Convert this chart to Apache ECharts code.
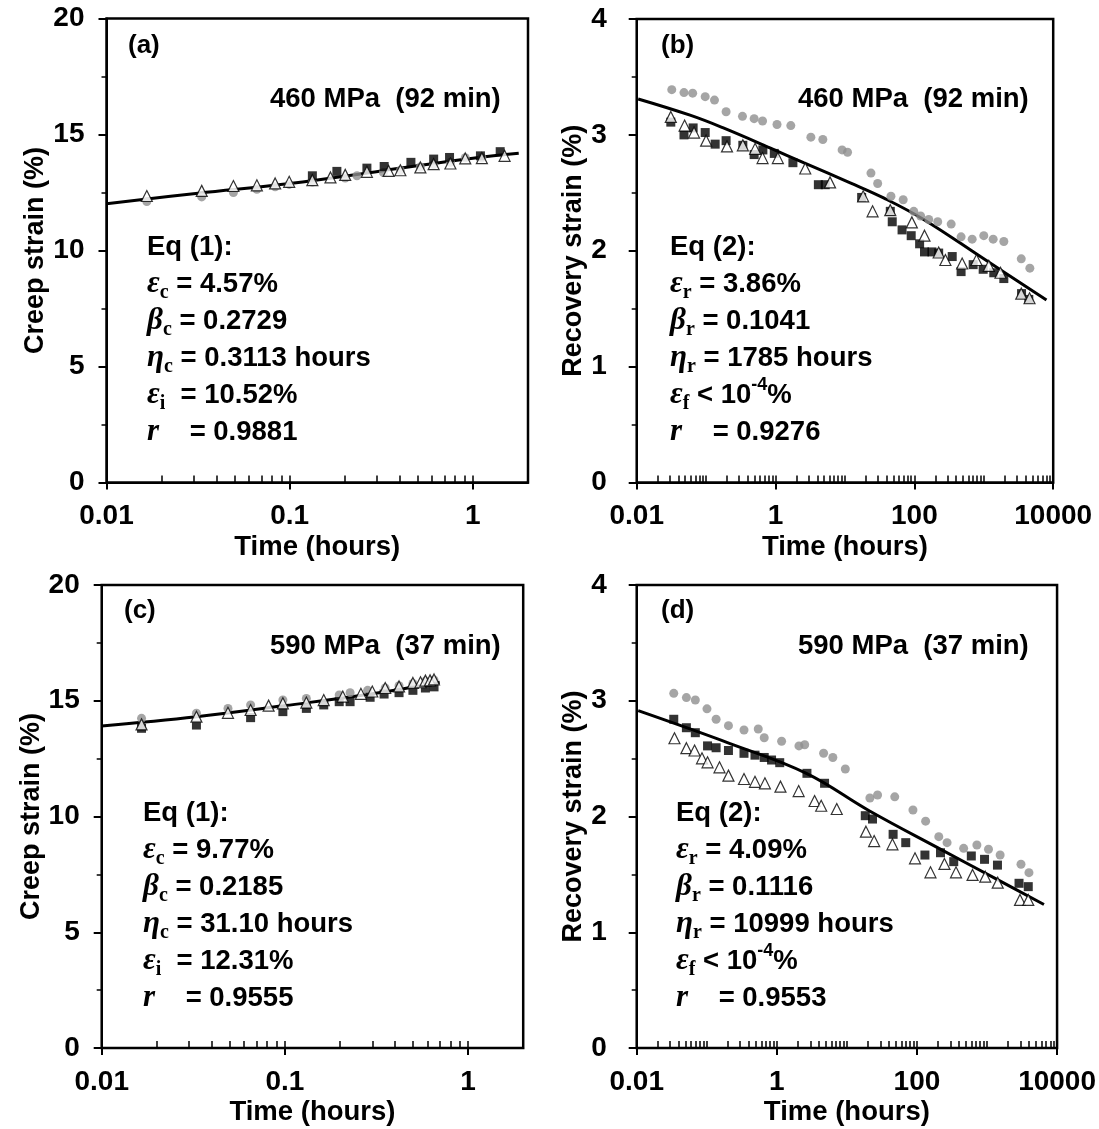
<!DOCTYPE html>
<html>
<head>
<meta charset="utf-8">
<script src="https://cdn.jsdelivr.net/npm/echarts@6.0.0/dist/echarts.min.js"></script>
<style>
  html, body { margin: 0; padding: 0; background: #fff; }
  #chart { width: 1099px; height: 1129px; }
</style>
</head>
<body>
<div id="chart"></div>
<script>
// (a) creep at 460 MPa
const aCircleTime = [0.0166, 0.0331, 0.0493, 0.0662, 0.0833, 0.0994, 0.133, 0.201, 0.233, 0.325, 0.402, 0.517, 0.611, 0.754, 0.909, 1.12];
const aCircleStrain = [12.11, 12.31, 12.5, 12.64, 12.75, 12.85, 12.95, 13.12, 13.22, 13.36, 13.45, 13.6, 13.7, 13.8, 14.0, 14.0];
const aSquareTime = [0.133, 0.181, 0.264, 0.328, 0.459, 0.611, 0.746, 1.10, 1.41];
const aSquareStrain = [13.22, 13.41, 13.55, 13.62, 13.80, 13.94, 14.01, 14.08, 14.26];
const aTriTime = [0.0166, 0.0331, 0.0493, 0.0662, 0.0833, 0.0994, 0.133, 0.167, 0.201, 0.264, 0.347, 0.402, 0.517, 0.611, 0.754, 0.909, 1.12, 1.49];
const aTriStrain = [12.35, 12.57, 12.78, 12.81, 12.89, 12.96, 13.03, 13.15, 13.26, 13.39, 13.43, 13.46, 13.58, 13.72, 13.75, 13.97, 13.98, 14.08];
const aFitTime = [0.01, 0.0316, 0.1, 0.316, 1, 1.78];
const aFitStrain = [12.02, 12.47, 12.89, 13.43, 13.98, 14.19];

// (b) recovery after 460 MPa
const bCircleTime = [0.032, 0.048, 0.064, 0.097, 0.132, 0.194, 0.334, 0.492, 0.65, 1.05, 1.66, 3.23, 4.8, 9.1, 10.9, 23.7, 29.6, 46, 69, 98, 123, 161, 217, 339, 471, 680, 1000, 1365, 1944, 3466, 4611];
const bCircleStrain = [3.39, 3.365, 3.36, 3.33, 3.30, 3.20, 3.16, 3.14, 3.12, 3.09, 3.08, 2.98, 2.96, 2.87, 2.85, 2.67, 2.58, 2.47, 2.44, 2.34, 2.30, 2.27, 2.25, 2.23, 2.12, 2.10, 2.13, 2.10, 2.08, 1.93, 1.85];
const bSquareTime = [0.031, 0.048, 0.065, 0.097, 0.135, 0.194, 0.338, 0.492, 0.657, 0.96, 1.78, 4.14, 5.2, 17.4, 45, 48, 66.5, 90, 119, 140, 179, 224, 351, 471, 703, 980, 1393, 1944, 3500, 4450];
const bSquareStrain = [3.11, 3.00, 3.06, 3.02, 2.92, 2.95, 2.91, 2.83, 2.87, 2.84, 2.76, 2.57, 2.57, 2.46, 2.34, 2.25, 2.18, 2.13, 2.06, 1.99, 1.99, 1.98, 1.95, 1.82, 1.88, 1.84, 1.81, 1.76, 1.63, 1.58];
const bTriTime = [0.031, 0.049, 0.067, 0.1, 0.2, 0.338, 0.508, 0.65, 1.08, 2.68, 6.1, 18.3, 25, 45, 92, 140, 224, 280, 488, 785, 1180, 1740, 3466, 4560];
const bTriStrain = [3.155, 3.08, 3.02, 2.95, 2.90, 2.91, 2.88, 2.80, 2.80, 2.71, 2.59, 2.47, 2.34, 2.35, 2.245, 2.13, 1.985, 1.92, 1.89, 1.92, 1.87, 1.81, 1.63, 1.59];
const bFitTime = [0.0105, 0.0587, 0.177, 0.93, 2.53, 11.9, 36, 136, 1000, 8000];
const bFitStrain = [3.31, 3.17, 3.06, 2.875, 2.76, 2.586, 2.456, 2.27, 1.93, 1.576];

// (c) creep at 590 MPa
const cCircleTime = [0.0165, 0.0329, 0.0489, 0.065, 0.0975, 0.131, 0.198, 0.227, 0.283, 0.353, 0.42, 0.5, 0.585, 0.652];
const cCircleStrain = [14.24, 14.46, 14.67, 14.82, 15.03, 15.1, 15.25, 15.35, 15.45, 15.55, 15.65, 15.75, 15.85, 15.9];
const cSquareTime = [0.0165, 0.0329, 0.065, 0.0975, 0.131, 0.163, 0.198, 0.227, 0.292, 0.348, 0.42, 0.5, 0.585, 0.652];
const cSquareStrain = [13.81, 13.95, 14.27, 14.53, 14.67, 14.82, 14.96, 14.96, 15.15, 15.29, 15.35, 15.45, 15.55, 15.6];
const cTriTime = [0.0165, 0.0329, 0.0489, 0.065, 0.0815, 0.0975, 0.131, 0.163, 0.207, 0.26, 0.3, 0.353, 0.42, 0.5, 0.55, 0.585, 0.62, 0.652];
const cTriStrain = [13.98, 14.31, 14.48, 14.60, 14.79, 14.89, 14.92, 15.03, 15.18, 15.3, 15.4, 15.55, 15.62, 15.77, 15.8, 15.87, 15.88, 15.92];
const cFitTime = [0.01, 0.0329, 0.1, 0.3, 0.7];
const cFitStrain = [13.91, 14.31, 14.79, 15.3, 15.8];

// (d) recovery after 590 MPa
const dCircleTime = [0.0338, 0.0512, 0.0687, 0.1007, 0.136, 0.204, 0.34, 0.543, 0.661, 1.17, 2.07, 2.5, 4.65, 6.3, 9.5, 21.3, 27.4, 48.2, 87.7, 133, 205, 269, 464, 717, 1050, 1540, 3055, 3970];
const dCircleStrain = [3.064, 3.027, 3.006, 2.93, 2.84, 2.785, 2.747, 2.756, 2.68, 2.65, 2.61, 2.62, 2.546, 2.51, 2.41, 2.16, 2.186, 2.17, 2.056, 1.96, 1.826, 1.774, 1.725, 1.754, 1.717, 1.667, 1.587, 1.515];
const dSquareTime = [0.0338, 0.0512, 0.0687, 0.1026, 0.136, 0.204, 0.34, 0.488, 0.661, 0.841, 1.10, 2.69, 4.8, 18.3, 23.2, 45.7, 69.2, 130, 217, 335, 597, 922, 1410, 2864, 3880];
const dSquareStrain = [2.84, 2.767, 2.724, 2.61, 2.594, 2.57, 2.546, 2.53, 2.51, 2.488, 2.465, 2.373, 2.287, 2.007, 1.978, 1.846, 1.774, 1.667, 1.687, 1.61, 1.659, 1.63, 1.58, 1.423, 1.394];
const dTriTime = [0.0346, 0.0512, 0.067, 0.0855, 0.1026, 0.152, 0.204, 0.34, 0.488, 0.676, 1.127, 2.05, 3.46, 4.3, 7.17, 18.7, 24.5, 44.7, 93.8, 156, 247, 361, 622, 944, 1423, 2958, 3880];
const dTriStrain = [2.676, 2.59, 2.57, 2.503, 2.468, 2.425, 2.353, 2.324, 2.30, 2.287, 2.258, 2.22, 2.134, 2.093, 2.065, 1.869, 1.788, 1.76, 1.639, 1.518, 1.59, 1.518, 1.495, 1.48, 1.428, 1.279, 1.279];
const dFitTime = [0.0105, 0.215, 2.64, 20.8, 229, 1306, 6500];
const dFitStrain = [2.914, 2.63, 2.373, 2.05, 1.71, 1.466, 1.24];

// axis labels
const shortTimeLabels = [0.01, 0.1, 1];
const longTimeLabels = [0.01, 1, 100, 10000];

// annotation text (rich markup)
const aNotes = ['{n|Eq (1):}', '{g|ε}{s|c}{n| = 4.57%}', '{g|β}{s|c}{n| = 0.2729}', '{g|η}{s|c}{n| = 0.3113 hours}', '{g|ε}{s|i}{n|  = 10.52%}', '{g|r}{n|    = 0.9881}'];
const bNotes = ['{n|Eq (2):}', '{g|ε}{s|r}{n| = 3.86%}', '{g|β}{s|r}{n| = 0.1041}', '{g|η}{s|r}{n| = 1785 hours}', '{g|ε}{s|f}{n| < 10}{p|-4}{n|%}', '{g|r}{n|    = 0.9276}'];
const cNotes = ['{n|Eq (1):}', '{g|ε}{s|c}{n| = 9.77%}', '{g|β}{s|c}{n| = 0.2185}', '{g|η}{s|c}{n| = 31.10 hours}', '{g|ε}{s|i}{n|  = 12.31%}', '{g|r}{n|    = 0.9555}'];
const dNotes = ['{n|Eq (2):}', '{g|ε}{s|r}{n| = 4.09%}', '{g|β}{s|r}{n| = 0.1116}', '{g|η}{s|r}{n| = 10999 hours}', '{g|ε}{s|f}{n| < 10}{p|-4}{n|%}', '{g|r}{n|    = 0.9553}'];

const zip = (xs, ys) => xs.map((x, i) => [x, ys[i]]);
const FONT = 'Liberation Sans';
const fmtLog = (v) => String(+Number(v).toPrecision(6));

function decadeTicks(lo, hi) {
  const out = [];
  for (let e = lo; e < hi; e++) {
    for (let k = 1; k <= 10; k++) out.push(+(k * Math.pow(10, e)).toPrecision(6));
  }
  return out;
}

const panels = [
  { grid: { left: 106.5, top: 18.5, width: 421.5, height: 464 }, xMax: 2, xLabels: shortTimeLabels, minor: decadeTicks(-2, 0),
    yMax: 20, yStep: 5, yName: 'Creep strain (%)', yGap: 48, yMargin: 22, xGap: 51,
    circle: zip(aCircleTime, aCircleStrain), square: zip(aSquareTime, aSquareStrain), tri: zip(aTriTime, aTriStrain), fit: zip(aFitTime, aFitStrain),
    tag: '(a)', tagPos: [128, 33], load: '460 MPa  (92 min)', loadPos: [270, 85], notes: aNotes, notesPos: [147, 233] },
  { grid: { left: 636.7, top: 19, width: 416.5, height: 463.5 }, xMax: 10000, xLabels: longTimeLabels, minor: decadeTicks(-2, 4),
    yMax: 4, yStep: 1, yName: 'Recovery strain (%)', yGap: 43, yMargin: 30, xGap: 51,
    circle: zip(bCircleTime, bCircleStrain), square: zip(bSquareTime, bSquareStrain), tri: zip(bTriTime, bTriStrain), fit: zip(bFitTime, bFitStrain),
    tag: '(b)', tagPos: [661, 33], load: '460 MPa  (92 min)', loadPos: [798, 85], notes: bNotes, notesPos: [670, 233] },
  { grid: { left: 101.7, top: 585, width: 421.5, height: 463 }, xMax: 2, xLabels: shortTimeLabels, minor: decadeTicks(-2, 0),
    yMax: 20, yStep: 5, yName: 'Creep strain (%)', yGap: 57, yMargin: 22, xGap: 50,
    circle: zip(cCircleTime, cCircleStrain), square: zip(cSquareTime, cSquareStrain), tri: zip(cTriTime, cTriStrain), fit: zip(cFitTime, cFitStrain),
    tag: '(c)', tagPos: [124, 598], load: '590 MPa  (37 min)', loadPos: [270, 632], notes: cNotes, notesPos: [143, 799] },
  { grid: { left: 636.7, top: 585, width: 420.5, height: 463 }, xMax: 10000, xLabels: longTimeLabels, minor: decadeTicks(-2, 4),
    yMax: 4, yStep: 1, yName: 'Recovery strain (%)', yGap: 45, yMargin: 30, xGap: 50,
    circle: zip(dCircleTime, dCircleStrain), square: zip(dSquareTime, dSquareStrain), tri: zip(dTriTime, dTriStrain), fit: zip(dFitTime, dFitStrain),
    tag: '(d)', tagPos: [661, 598], load: '590 MPa  (37 min)', loadPos: [798, 632], notes: dNotes, notesPos: [676, 799] },
];

const labelStyle = { color: '#000', fontFamily: FONT, fontWeight: 'bold', fontSize: 28 };
const richStyles = {
  n: { fontFamily: FONT, fontWeight: 'bold', fontSize: 27.5, color: '#000', lineHeight: 37 },
  g: { fontFamily: 'Liberation Serif', fontStyle: 'italic', fontWeight: 'bold', fontSize: 31, color: '#000', lineHeight: 37 },
  s: { fontFamily: 'Liberation Serif', fontWeight: 'bold', fontSize: 20, color: '#000', lineHeight: 18, verticalAlign: 'bottom' },
  p: { fontFamily: FONT, fontWeight: 'bold', fontSize: 18, color: '#000', lineHeight: 20, verticalAlign: 'top' },
};

const grids = [], xAxes = [], yAxes = [], series = [], graphics = [];

panels.forEach((p, i) => {
  grids.push({ ...p.grid, show: true, borderColor: '#000', borderWidth: 2.5, backgroundColor: 'transparent' });

  xAxes.push({
    type: 'log', logBase: 10, gridIndex: i, min: 0.01, max: p.xMax, position: 'bottom',
    axisLine: { show: true, lineStyle: { color: '#000', width: 2 } },
    axisTick: { show: true, inside: false, length: 7, customValues: p.xLabels, lineStyle: { color: '#000', width: 2 } },
    axisLabel: { customValues: p.xLabels, formatter: fmtLog, margin: 20, ...labelStyle },
    splitLine: { show: false },
    name: 'Time (hours)', nameLocation: 'middle', nameGap: p.xGap,
    nameTextStyle: { ...labelStyle, fontSize: 27.5 },
  });
  xAxes.push({
    type: 'log', logBase: 10, gridIndex: i, min: 0.01, max: p.xMax, position: 'bottom', offset: 0,
    axisLine: { show: false },
    axisTick: { show: true, inside: true, length: 7, customValues: p.minor, lineStyle: { color: '#000', width: 1.5 } },
    axisLabel: { show: false },
    splitLine: { show: false },
  });

  yAxes.push({
    type: 'value', gridIndex: i, min: 0, max: p.yMax, interval: p.yStep,
    axisLine: { show: true, lineStyle: { color: '#000', width: 2 } },
    axisTick: { show: true, inside: false, length: 8, lineStyle: { color: '#000', width: 2 } },
    minorTick: { show: true, splitNumber: 2, length: 5, lineStyle: { color: '#000', width: 1.5 } },
    splitLine: { show: false },
    axisLabel: { margin: p.yMargin, ...labelStyle },
    name: p.yName, nameLocation: 'middle', nameGap: p.yGap,
    nameTextStyle: { ...labelStyle, fontSize: 27 },
  });

  const xi = i * 2;
  series.push({
    type: 'line', xAxisIndex: xi, yAxisIndex: i, data: p.fit, smooth: 0.4,
    showSymbol: false, silent: true, lineStyle: { color: '#000', width: 3 }, z: 2,
  });
  series.push({
    type: 'scatter', xAxisIndex: xi, yAxisIndex: i, data: p.circle, symbol: 'circle', symbolSize: 9,
    itemStyle: { color: '#8e8e8e' }, z: 3,
  });
  series.push({
    type: 'scatter', xAxisIndex: xi, yAxisIndex: i, data: p.square, symbol: 'rect', symbolSize: 9,
    itemStyle: { color: '#000' }, z: 4,
  });
  series.push({
    type: 'scatter', xAxisIndex: xi, yAxisIndex: i, data: p.tri, symbol: 'triangle', symbolSize: 11,
    itemStyle: { color: '#fff', borderColor: '#000', borderWidth: 1.2 }, z: 5,
  });

  graphics.push({
    type: 'text', left: p.tagPos[0], top: p.tagPos[1], z: 10,
    style: { text: p.tag, fill: '#000', font: 'bold 26px "Liberation Sans"' },
  });
  graphics.push({
    type: 'text', left: p.loadPos[0], top: p.loadPos[1], z: 10,
    style: { text: p.load, fill: '#000', font: 'bold 27.5px "Liberation Sans"' },
  });
  graphics.push({
    type: 'text', left: p.notesPos[0], top: p.notesPos[1], z: 10,
    style: { text: p.notes.join('\n'), rich: richStyles, fill: '#000', font: 'bold 27.5px "Liberation Sans"' },
  });
});

const chart = echarts.init(document.getElementById('chart'), null, { renderer: 'canvas' });
chart.setOption({
  animation: false,
  backgroundColor: '#fff',
  grid: grids,
  xAxis: xAxes,
  yAxis: yAxes,
  series: series,
  graphic: graphics,
});
</script>
</body>
</html>
